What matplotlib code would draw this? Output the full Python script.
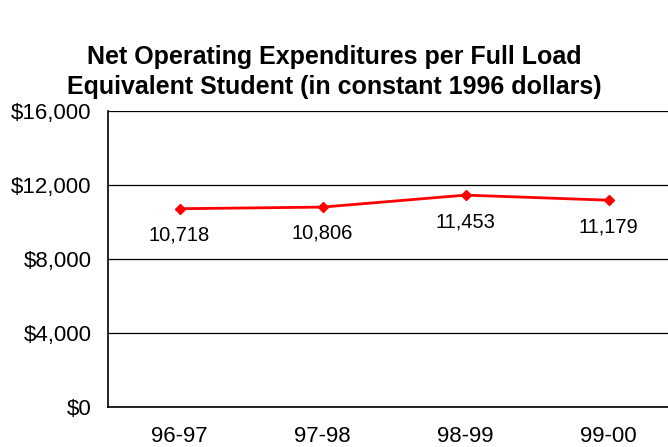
import matplotlib
matplotlib.use('Agg')
import matplotlib.pyplot as plt

# data
years = ['96-97', '97-98', '98-99', '99-00']
expenditures = [10718, 10806, 11453, 11179]
y_ticks = [0, 4000, 8000, 12000, 16000]

plt.rcParams['font.family'] = ['Liberation Sans', 'DejaVu Sans']

fig = plt.figure(figsize=(6.68, 4.47), dpi=100)
ax = fig.add_axes([108 / 668, 40 / 447, 572 / 668, 296 / 447])

x = list(range(len(years)))
ax.plot(x, expenditures, color='#ff0000', linewidth=2, marker='D',
        markersize=5.5, zorder=3, clip_on=False)

for xi, v in zip(x, expenditures):
    ax.annotate(f'{v:,}', (xi, v), xytext=(0, -19), textcoords='offset points',
                ha='center', va='center', fontsize=14.5)

ax.set_xlim(-0.5, len(years) - 0.5)
ax.set_ylim(0, 16000)
ax.set_yticks(y_ticks)
ax.set_yticklabels([f'${t:,}' for t in y_ticks], fontsize=16)
ax.set_xticks(x)
ax.set_xticklabels(years, fontsize=16)
ax.tick_params(axis='y', length=0, pad=12)
ax.tick_params(axis='x', length=0, pad=14)

ax.yaxis.grid(True, color='black', linewidth=0.9)
ax.set_axisbelow(True)
for s in ['top', 'right']:
    ax.spines[s].set_visible(False)
for s in ['left', 'bottom']:
    ax.spines[s].set_linewidth(1.2)
    ax.spines[s].set_color('black')

fig.text(0.5, 1 - 72 / 447, 'Net Operating Expenditures per Full Load\nEquivalent Student (in constant 1996 dollars)',
         ha='center', va='center', fontsize=18, fontweight='bold', linespacing=1.3)

fig.savefig('out.png', dpi=100)
